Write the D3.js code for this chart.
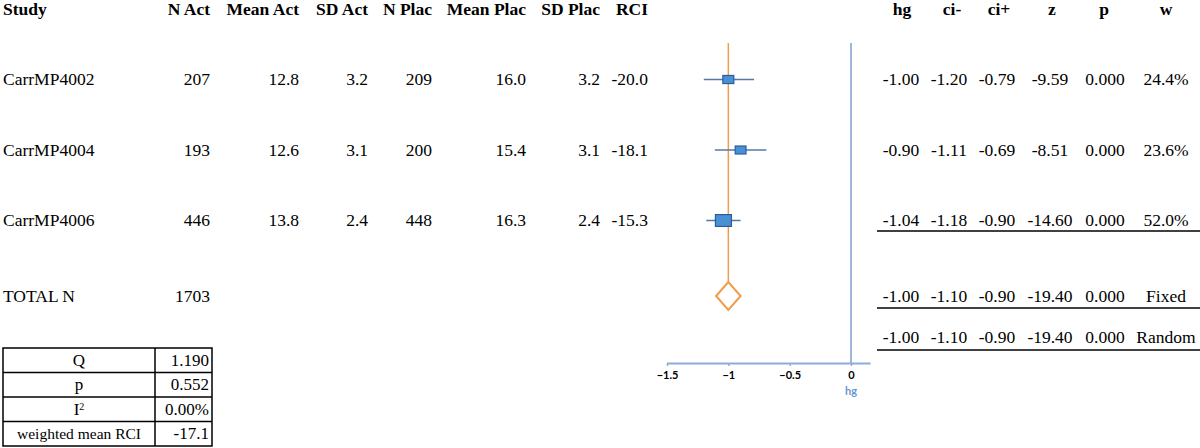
<!DOCTYPE html>
<html>
<head>
<meta charset="utf-8">
<script src="https://cdn.jsdelivr.net/npm/d3@7"></script>
<style>
  html, body { margin: 0; padding: 0; background: #fff; }
  svg { display: block; }
  text { font-family: "Liberation Serif", "Times New Roman", serif; fill: #000; }
</style>
</head>
<body>
<svg id="chart" width="1200" height="448"></svg>
<script>
// ---------- data ----------
const studies   = ["CarrMP4002", "CarrMP4004", "CarrMP4006"];
const nAct      = [207, 193, 446];
const meanAct   = [12.8, 12.6, 13.8];
const sdAct     = [3.2, 3.1, 2.4];
const nPlac     = [209, 200, 448];
const meanPlac  = [16.0, 15.4, 16.3];
const sdPlac    = [3.2, 3.1, 2.4];
const rci       = [-20.0, -18.1, -15.3];
const hg        = [-1.00, -0.90, -1.04];
const ciLo      = [-1.20, -1.11, -1.18];
const ciHi      = [-0.79, -0.69, -0.90];
const zVal      = [-9.59, -8.51, -14.60];
const pVal      = [0.000, 0.000, 0.000];
const weight    = [24.4, 23.6, 52.0];

const totalLabel = "TOTAL N";
const totalN     = 1703;

const pooledModels = ["Fixed", "Random"];
const pooledHg     = [-1.00, -1.00];
const pooledLo     = [-1.10, -1.10];
const pooledHi     = [-0.90, -0.90];
const pooledZ      = [-19.40, -19.40];
const pooledP      = [0.000, 0.000];

const leftHeaders  = ["Study", "N Act", "Mean Act", "SD Act", "N Plac", "Mean Plac", "SD Plac", "RCI"];
const rightHeaders = ["hg", "ci-", "ci+", "z", "p", "w"];

const statLabels = ["Q", "p", "I2", "weighted mean RCI"];
const statValues = ["1.190", "0.552", "0.00%", "-17.1"];

const xTicks = [-1.5, -1, -0.5, 0];
const axisTitle = "hg";

// ---------- layout ----------
const svg = d3.select("#chart");
const FS = 17.5;

const x = d3.scaleLinear().domain([-1.5, 0]).range([667, 851]);
const rowY = d3.scaleLinear().domain([0, 1]).range([79.5, 150]);
const totalY = 296;
const randomY = 337;
const headerY = 9;
const plotTop = 43;
const axisY = 363;

const leftCols = [3, 210, 299, 368, 432, 526, 600, 648];
const rightCols = [901, 949, 997, 1050, 1105, 1166];
const headerCols = [902, 952, 999, 1052, 1104, 1166];

svg.selectAll("text.lh").data(leftHeaders).join("text")
  .attr("class", "lh")
  .attr("x", (d, i) => leftCols[i])
  .attr("y", headerY).attr("dy", "0.33em")
  .attr("text-anchor", (d, i) => i === 0 ? "start" : "end")
  .style("font-weight", "bold").style("font-size", FS + "px")
  .text(d => d);

svg.selectAll("text.rh").data(rightHeaders).join("text")
  .attr("class", "rh")
  .attr("x", (d, i) => headerCols[i])
  .attr("y", headerY).attr("dy", "0.33em")
  .attr("text-anchor", "middle")
  .style("font-weight", "bold").style("font-size", FS + "px")
  .text(d => d);

const f1 = d3.format(".1f");
const f3 = d3.format(".3f");
const fmtNeg = v => (v < 0 ? "-" : "") + Math.abs(v).toFixed(2);

studies.forEach((s, i) => {
  const cells = [s, nAct[i], f1(meanAct[i]), f1(sdAct[i]), nPlac[i], f1(meanPlac[i]), f1(sdPlac[i]), (rci[i] < 0 ? "-" : "") + Math.abs(rci[i]).toFixed(1)];
  svg.append("g").selectAll("text").data(cells).join("text")
    .attr("x", (d, j) => leftCols[j])
    .attr("y", rowY(i)).attr("dy", "0.33em")
    .attr("text-anchor", (d, j) => j === 0 ? "start" : "end")
    .style("font-size", FS + "px")
    .text(d => d);

  const rcells = [fmtNeg(hg[i]), fmtNeg(ciLo[i]), fmtNeg(ciHi[i]), fmtNeg(zVal[i]), f3(pVal[i]), f1(weight[i]) + "%"];
  svg.append("g").selectAll("text").data(rcells).join("text")
    .attr("x", (d, j) => rightCols[j])
    .attr("y", rowY(i)).attr("dy", "0.33em")
    .attr("text-anchor", "middle")
    .style("font-size", FS + "px")
    .text(d => d);
});

svg.append("text").attr("x", leftCols[0]).attr("y", totalY).attr("dy", "0.33em")
  .style("font-size", FS + "px").text(totalLabel);
svg.append("text").attr("x", leftCols[1]).attr("y", totalY).attr("dy", "0.33em")
  .attr("text-anchor", "end").style("font-size", FS + "px").text(totalN);

const pooledYs = [totalY, randomY];
pooledModels.forEach((m, k) => {
  const cells = [fmtNeg(pooledHg[k]), fmtNeg(pooledLo[k]), fmtNeg(pooledHi[k]), fmtNeg(pooledZ[k]), f3(pooledP[k]), m];
  svg.append("g").selectAll("text").data(cells).join("text")
    .attr("x", (d, j) => rightCols[j])
    .attr("y", pooledYs[k]).attr("dy", "0.33em")
    .attr("text-anchor", "middle")
    .style("font-size", FS + "px")
    .text(d => d);
});

[231, 308, 350].forEach(yy => {
  svg.append("line").attr("x1", 877).attr("x2", 1200).attr("y1", yy).attr("y2", yy)
    .attr("stroke", "#000").attr("stroke-width", 1.5);
});

// ---------- forest plot ----------
const fp = svg.append("g");

fp.append("line").attr("x1", x(0)).attr("x2", x(0)).attr("y1", plotTop).attr("y2", axisY)
  .attr("stroke", "#7f9fd2").attr("stroke-width", 1.5);

const diaH = 14;
fp.append("line").attr("x1", x(pooledHg[0])).attr("x2", x(pooledHg[0]))
  .attr("y1", plotTop).attr("y2", totalY - diaH)
  .attr("stroke", "#ef9d4c").attr("stroke-width", 1.5);

fp.selectAll("line.ci").data(studies).join("line")
  .attr("class", "ci")
  .attr("x1", (d, i) => x(ciLo[i])).attr("x2", (d, i) => x(ciHi[i]))
  .attr("y1", (d, i) => rowY(i)).attr("y2", (d, i) => rowY(i))
  .attr("stroke", "#5577aa").attr("stroke-width", 1.3);

fp.selectAll("rect.sq").data(studies).join("rect")
  .attr("class", "sq")
  .attr("x", (d, i) => x(hg[i]) - 2.22 * Math.sqrt(weight[i]) / 2)
  .attr("y", (d, i) => rowY(i) - 1.64 * Math.sqrt(weight[i]) / 2)
  .attr("width", (d, i) => 2.22 * Math.sqrt(weight[i]))
  .attr("height", (d, i) => 1.64 * Math.sqrt(weight[i]))
  .attr("fill", "#4a90d4").attr("stroke", "#2b5c9c").attr("stroke-width", 1.2);

const dPts = [[x(pooledLo[0]), totalY], [x(pooledHg[0]), totalY - diaH], [x(pooledHi[0]), totalY], [x(pooledHg[0]), totalY + diaH]];
fp.append("path").attr("d", d3.line()(dPts) + "Z")
  .attr("fill", "#fff").attr("stroke", "#ef9d4c").attr("stroke-width", 2);

const axisG = fp.append("g").attr("transform", `translate(0,${axisY})`)
  .call(d3.axisBottom(x).tickValues(xTicks).tickSize(3).tickFormat(d => d3.format("")(d)));
axisG.select(".domain").attr("d", `M${x(-1.5)},0.5H${x(0.16)}`).attr("stroke", "#8fabdc").attr("stroke-width", 1.8);
axisG.selectAll(".tick line").attr("stroke", "#8fabdc").attr("stroke-width", 1.5).attr("y2", 3);
axisG.selectAll(".tick text").attr("y", 8)
  .style("font-family", "Lato, 'Open Sans', sans-serif").style("font-size", "11px").style("font-weight", "bold")
  .attr("fill", "#6a95cf");
fp.append("text").attr("x", x(0)).attr("y", axisY + 28).attr("dy", "0.33em").attr("text-anchor", "middle")
  .style("font-family", "Lato, 'Open Sans', sans-serif").style("font-size", "11px").style("font-weight", "bold")
  .style("fill", "#6a95cf").text(axisTitle);

// ---------- stats table ----------
const tX0 = 3, tX1 = 155, tX2 = 212, tY0 = 348, tRow = 24.5;
const tg = svg.append("g");
const tY = d3.scaleLinear().domain([0, statLabels.length]).range([tY0, tY0 + tRow * statLabels.length]);
tg.append("rect").attr("x", tX0).attr("y", tY(0)).attr("width", tX2 - tX0).attr("height", tY(statLabels.length) - tY(0))
  .attr("fill", "none").attr("stroke", "#000").attr("stroke-width", 1.5);
tg.append("line").attr("x1", tX1).attr("x2", tX1).attr("y1", tY(0)).attr("y2", tY(statLabels.length))
  .attr("stroke", "#000").attr("stroke-width", 1.5);
d3.range(1, statLabels.length).forEach(k => {
  tg.append("line").attr("x1", tX0).attr("x2", tX2).attr("y1", tY(k)).attr("y2", tY(k))
    .attr("stroke", "#000").attr("stroke-width", 1.5);
});
statLabels.forEach((lab, k) => {
  const t = tg.append("text").attr("x", (tX0 + tX1) / 2).attr("y", tY(k + 0.5)).attr("dy", "0.33em")
    .attr("text-anchor", "middle").style("font-size", (k === 3 ? 15.5 : 17) + "px");
  if (lab === "I2") {
    t.append("tspan").text("I");
    t.append("tspan").attr("dy", "-0.5em").style("font-size", "10px").text("2");
  } else {
    t.text(lab);
  }
  tg.append("text").attr("x", tX2 - 3).attr("y", tY(k + 0.5)).attr("dy", "0.33em")
    .attr("text-anchor", "end").style("font-size", "17px").text(statValues[k]);
});
</script>
</body>
</html>
